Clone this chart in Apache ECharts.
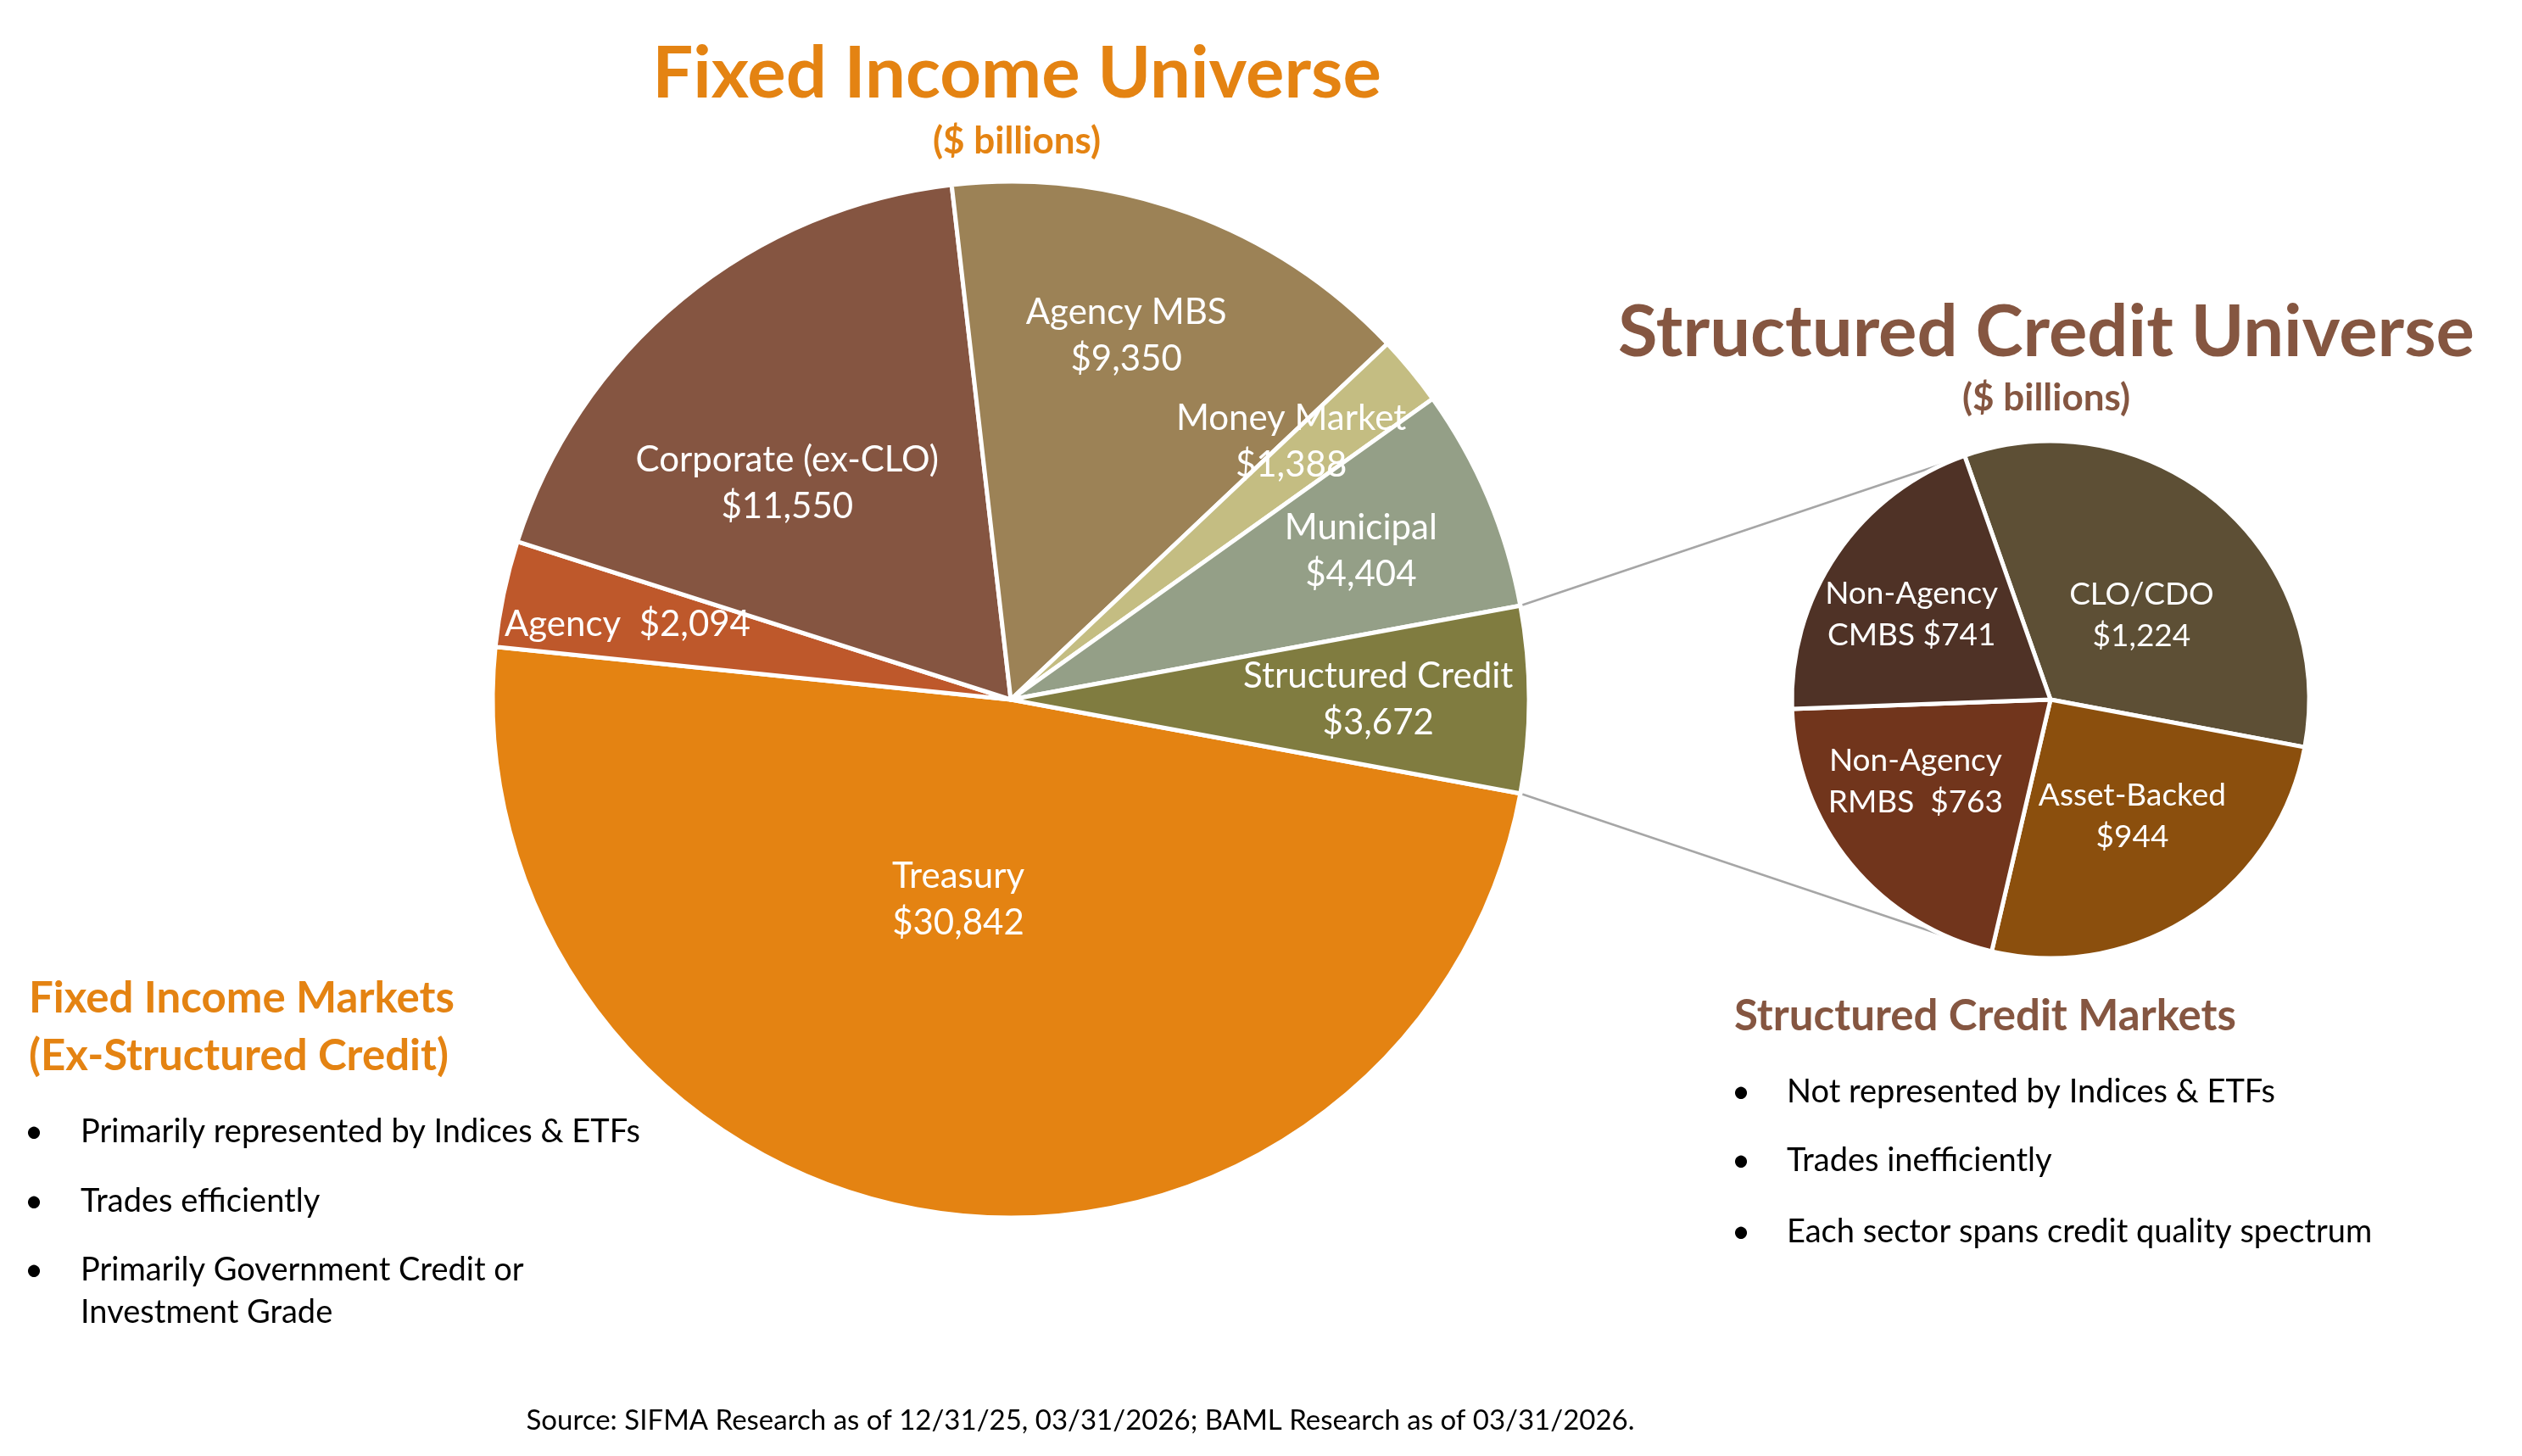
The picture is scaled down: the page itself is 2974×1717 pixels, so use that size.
<!DOCTYPE html>
<html><head><meta charset="utf-8">
<script src="https://cdn.jsdelivr.net/npm/echarts@6/dist/echarts.min.js"></script>
<style>html,body{margin:0;padding:0;background:#fff}#c{width:2974px;height:1717px}</style>
</head><body><div id="c"></div>
<script>
// ---------- DATA ----------
const fiCategories = ['Treasury', 'Agency', 'Corporate (ex-CLO)', 'Agency MBS', 'Money Market', 'Municipal', 'Structured Credit'];
const fiValues = [30842, 2094, 11550, 9350, 1388, 4404, 3672];
const fiLabelText = ['Treasury\n', 'Agency  ', 'Corporate (ex-CLO)\n', 'Agency MBS\n', 'Money Market\n', 'Municipal\n', 'Structured Credit\n'];

const scCategories = ['CLO/CDO', 'Asset-Backed', 'Non-Agency RMBS', 'Non-Agency CMBS'];
const scValues = [1224, 944, 763, 741];
const scLabelText = ['CLO/CDO\n', 'Asset-Backed\n', 'Non-Agency\nRMBS  ', 'Non-Agency\nCMBS '];

const fiTitle = 'Fixed Income Universe';
const scTitle = 'Structured Credit Universe';
const unitText = '($ billions)';
const leftHeading = ['Fixed Income Markets', '(Ex-Structured Credit)'];
const leftBullets = ['Primarily represented by Indices & ETFs', 'Trades efficiently', 'Primarily Government Credit or\nInvestment Grade'];
const rightHeading = 'Structured Credit Markets';
const rightBullets = ['Not represented by Indices & ETFs', 'Trades inefficiently', 'Each sector spans credit quality spectrum'];
const sourceText = 'Source: SIFMA Research as of 12/31/25, 03/31/2026; BAML Research as of 03/31/2026.';

// ---------- LAYOUT / STYLE ----------
const FONT = 'Lato';
const ORANGE = '#E48312', BROWN = '#855641';
const fiColors = ['#E48312', '#BE582B', '#855541', '#9C8256', '#C4BD82', '#949F87', '#807C40'];
const scColors = ['#5D4F35', '#8B4F0D', '#71351C', '#4F3226'];
const fiCenter = [1192, 825], fiR = 611;
const scCenter = [2418, 825], scR = 305;
const scStartAngle = 109.4;
const connectorAngle = 113.5;
// label placement: [fraction of radius, angle in degrees]
const fiLabelPos = [[0.40, -104.7], [0.754, 168.9], [0.60, 136], [0.737, 72.4], [0.735, 42.6], [0.734, 23], [0.709, 0]];
const scLabelPos = [[0.48, 42.8], [0.55, -54.9], [0.61, -148.8], [0.63, 148.5]];

const fmt = v => '$' + v.toLocaleString('en-US');
const polar = (c, d, a) => [c[0] + d * Math.cos(a * Math.PI / 180), c[1] - d * Math.sin(a * Math.PI / 180)];
const fiTotal = fiValues.reduce((a, b) => a + b, 0);
const splitIdx = fiCategories.indexOf('Structured Credit');
const splitHalf = fiValues[splitIdx] / fiTotal * 180;

const chart = echarts.init(document.getElementById('c'), null, {renderer: 'canvas'});

function txt(text, x, y, size, color, weight, align, vAlign, lh) {
  return {type: 'text', x: x, y: y, z: 100, silent: true,
    style: {text: text, fill: color, fontFamily: FONT, fontSize: size, fontWeight: weight || 'normal',
      align: align || 'center', verticalAlign: vAlign || 'middle', lineHeight: lh || Math.round(size * 1.25)}};
}

const graphics = [];
// connectors
const t1 = polar(fiCenter, fiR, splitHalf), t2 = polar(scCenter, scR, connectorAngle);
const b1 = polar(fiCenter, fiR, -splitHalf), b2 = polar(scCenter, scR, -connectorAngle);
[[t1, t2], [b1, b2]].forEach(([p, q]) => graphics.push({type: 'line', z: 0, silent: true,
  shape: {x1: p[0], y1: p[1], x2: q[0], y2: q[1]}, style: {stroke: '#A6A6A6', lineWidth: 2.5}}));

graphics.push(txt(fiTitle, 1199, 88, 85, ORANGE, 'bold'));
graphics.push(txt(unitText, 1199, 167, 44, ORANGE, 'bold'));
graphics.push(txt(scTitle, 2413, 393, 85, BROWN, 'bold'));
graphics.push(txt(unitText, 2413, 470, 44, BROWN, 'bold'));
graphics.push(txt(leftHeading[0], 34, 1178, 51, ORANGE, 'bold', 'left'));
graphics.push(txt(leftHeading[1], 34, 1246, 51, ORANGE, 'bold', 'left'));
const leftY = [1335, 1417, 1498];
leftBullets.forEach((b, i) => {
  graphics.push(txt('\u2022', 40, leftY[i], 38, '#000', 'normal'));
  graphics.push(txt(b, 95, leftY[i] - 25, 38, '#000', 'normal', 'left', 'top', 50));
});
graphics.push(txt(rightHeading, 2045, 1199, 51, BROWN, 'bold', 'left'));
const rightY = [1288, 1369, 1453];
rightBullets.forEach((b, i) => {
  graphics.push(txt('\u2022', 2053, rightY[i], 38, '#000', 'normal'));
  graphics.push(txt(b, 2107, rightY[i], 38, '#000', 'normal', 'left'));
});
graphics.push(txt(sourceText, 1274, 1675, 33, '#000', 'normal'));

const common = {type: 'pie', clockwise: true, silent: true, animation: false, avoidLabelOverlap: false,
  minShowLabelAngle: 0, labelLine: {show: false}, emphasis: {disabled: true},
  itemStyle: {borderColor: '#fff', borderWidth: 5}};

chart.setOption({
  backgroundColor: '#fff',
  animation: false,
  graphic: graphics,
  series: [
    Object.assign({}, common, {
      name: 'Fixed Income Universe', center: fiCenter, radius: fiR, startAngle: -splitHalf,
      data: fiCategories.map((n, i) => ({name: n, value: fiValues[i], itemStyle: {color: fiColors[i]}})),
      label: {show: true, position: 'inside', color: '#fff', fontFamily: FONT, fontSize: 42, lineHeight: 55,
        formatter: p => fiLabelText[p.dataIndex] + fmt(p.value)},
      labelLayout: p => { const [f, a] = fiLabelPos[p.dataIndex]; const [x, y] = polar(fiCenter, f * fiR, a);
        return {x: x, y: y, align: 'center', verticalAlign: 'middle'}; }
    }),
    Object.assign({}, common, {
      name: 'Structured Credit Universe', center: scCenter, radius: scR, startAngle: scStartAngle,
      data: scCategories.map((n, i) => ({name: n, value: scValues[i], itemStyle: {color: scColors[i]}})),
      label: {show: true, position: 'inside', color: '#fff', fontFamily: FONT, fontSize: 37, lineHeight: 49,
        formatter: p => scLabelText[p.dataIndex] + fmt(p.value)},
      labelLayout: p => { const [f, a] = scLabelPos[p.dataIndex]; const [x, y] = polar(scCenter, f * scR, a);
        return {x: x, y: y, align: 'center', verticalAlign: 'middle'}; }
    })
  ]
});
</script></body></html>
